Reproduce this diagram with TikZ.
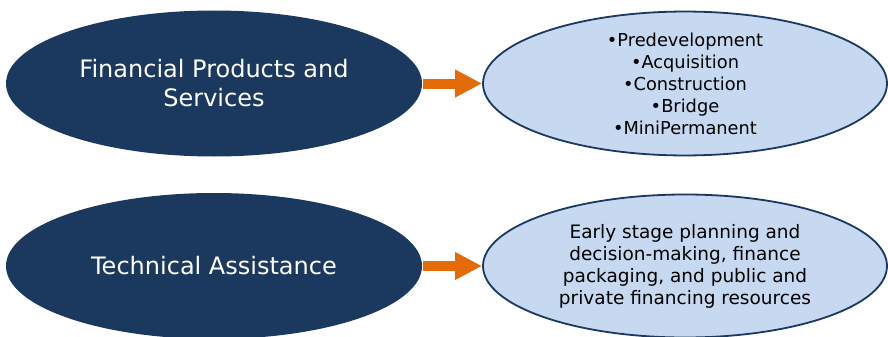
\documentclass[tikz,border=0pt]{standalone}
\usepackage{fontspec}
\setmainfont{DejaVu Sans}
\usetikzlibrary{shapes.geometric,arrows.meta}
\definecolor{navy}{RGB}{27,56,94}
\definecolor{lightblue}{RGB}{198,217,241}
\definecolor{orangearrow}{RGB}{227,108,9}
\tikzset{
  darkell/.style={ellipse, fill=navy, draw=none, inner sep=0pt, text=white, align=center,
    minimum width=416pt, minimum height=146pt, font=\fontsize{24}{29}\selectfont},
  lightell/.style={ellipse, fill=lightblue, draw=navy, line width=1.8pt, inner sep=0pt, text=black, align=center,
    minimum width=404pt, minimum height=143pt},
  bigarrow/.style={draw=orangearrow, line width=10pt, line cap=butt,
    -{Triangle[width=26pt,length=27pt]}, shorten <=1pt}
}
\begin{document}
\begin{tikzpicture}[x=1pt,y=-1pt]
\useasboundingbox (0,0) rectangle (888,337);
\node[darkell] (fps) at (214,83.5) {Financial Products and\\Services};
\node[lightell, font=\fontsize{17.8}{22}\selectfont] (list) at (685,83.5) {•Predevelopment\\•Acquisition\\•Construction\\•Bridge\\•MiniPermanent};
\node[darkell] (ta) at (214,266) {Technical Assistance};
\node[lightell, font=\fontsize{18.5}{22}\selectfont] (early) at (685,266) {Early stage planning and\\decision-making, finance\\packaging, and public and\\private financing resources};
\draw[bigarrow] (fps.east) -- (list.west);
\draw[bigarrow] (ta.east) -- (early.west);
\end{tikzpicture}
\end{document}
